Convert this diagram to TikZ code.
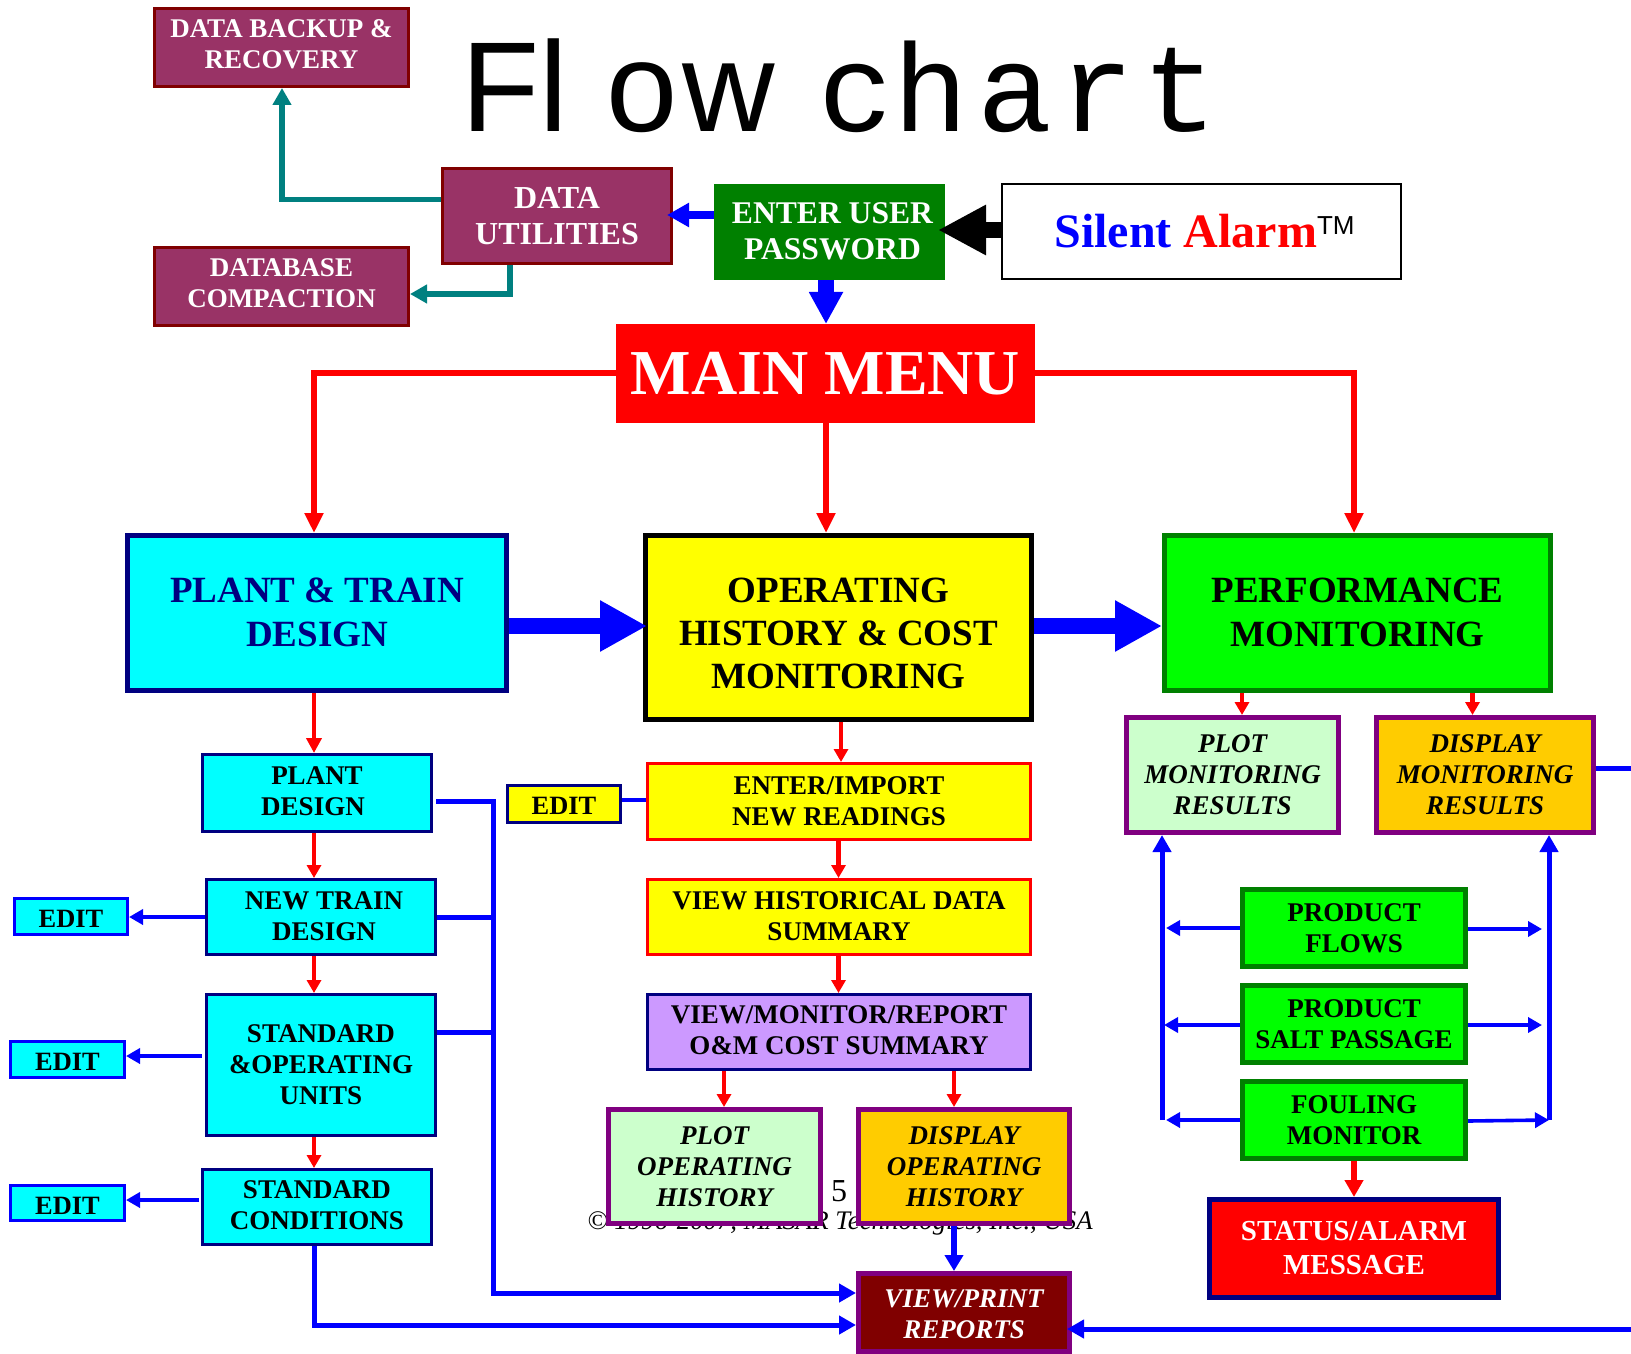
\documentclass[tikz,border=0pt]{standalone}
\usepackage{fontspec}
\setmainfont{Liberation Serif}
\newfontfamily\titlefont[Kerning=Off]{Liberation Sans}
\newfontfamily\titlemono[Kerning=Off]{Liberation Mono}
\usetikzlibrary{arrows.meta,calc}
\definecolor{mauve}{HTML}{993366}
\definecolor{maroonx}{HTML}{800000}
\definecolor{navyx}{HTML}{000080}
\definecolor{greenx}{HTML}{008000}
\definecolor{purplex}{HTML}{800080}
\definecolor{tealx}{HTML}{008080}
\definecolor{paleg}{HTML}{CCFFCC}
\definecolor{orangex}{HTML}{FFCC00}
\definecolor{lilac}{HTML}{CC99FF}
\definecolor{cyanx}{HTML}{00FFFF}
\definecolor{yellowx}{HTML}{FFFF00}
\definecolor{limex}{HTML}{00FF00}
\definecolor{bluex}{HTML}{0000FF}
\definecolor{redx}{HTML}{FF0000}
\newcommand{\fz}[2]{\fontsize{#1}{#2}\selectfont}
\newcommand{\bx}[7]{\node[#2,minimum width={(#5-#3)*0.5pt-\pgflinewidth},minimum height={(#6-#4)*0.5pt-\pgflinewidth}] (#1) at ({(#3+#5)/2},{(#4+#6)/2}) {#7};}
% move a block of text inside its box without changing the box
\newsavebox{\nudgebox}
\newcommand{\nudge}[3]{\sbox{\nudgebox}{\begin{tabular}{@{}c@{}}#3\end{tabular}}\kern#1\raisebox{#2}[\ht\nudgebox][\dp\nudgebox]{\usebox{\nudgebox}}\kern-#1\relax}
\tikzset{
  base box/.style={draw,rectangle,align=center,inner sep=0pt,text=black,font=\bfseries},
  mauvebox/.style={base box,fill=mauve,draw=maroonx,line width=1.5pt,text=white,font=\bfseries\fz{13.5}{15.7}},
  mauvebig/.style={mauvebox,font=\bfseries\fz{16}{18}},
  entrybox/.style={base box,fill=greenx,draw=greenx,line width=0.5pt,text=white,font=\bfseries\fz{15.8}{18}},
  brandbox/.style={base box,fill=white,draw=black,line width=1pt},
  mainbox/.style={base box,fill=redx,draw=redx,line width=0.5pt,text=white,font=\bfseries\fz{32}{36}},
  bigcyan/.style={base box,fill=cyanx,draw=navyx,line width=2.5pt,font=\bfseries\fz{18.5}{21.7},text=navyx},
  bigyellow/.style={base box,fill=yellowx,draw=black,line width=2.5pt,font=\bfseries\fz{18.5}{21.7}},
  biggreen/.style={base box,fill=limex,draw=greenx,line width=2.5pt,font=\bfseries\fz{18.5}{21.7}},
  smallcyan/.style={base box,fill=cyanx,draw=navyx,line width=1.4pt,font=\bfseries\fz{13.5}{15.5}},
  editcyan/.style={smallcyan,draw=bluex,font=\bfseries\fz{13.2}{15.5}},
  edityellow/.style={smallcyan,fill=yellowx,font=\bfseries\fz{13.2}{15.5}},
  readingbox/.style={smallcyan,fill=yellowx,draw=redx},
  costbox/.style={smallcyan,fill=lilac},
  paleitalic/.style={base box,fill=paleg,draw=purplex,line width=2.5pt,font=\bfseries\itshape\fz{13.5}{15.5}},
  orangeitalic/.style={paleitalic,fill=orangex},
  reportbox/.style={paleitalic,fill=maroonx,text=white},
  greenbox/.style={base box,fill=limex,draw=greenx,line width=2.5pt,font=\bfseries\fz{13.5}{15.5}},
  alarmbox/.style={base box,fill=redx,draw=navyx,line width=2.5pt,text=white,font=\bfseries\fz{14.5}{17}},
  redmain/.style={draw=redx,line width=3pt,-{Triangle[length=10pt,width=9pt]}},
  redlead/.style={draw=redx,line width=2.4pt,-{Triangle[length=7.5pt,width=7.5pt]}},
  redthin/.style={draw=redx,line width=2.4pt,-{Triangle[length=6.5pt,width=7pt]}},
  blueedit/.style={draw=bluex,line width=1.8pt,-{Triangle[length=7pt,width=7.5pt]}},
  bluebus/.style={draw=bluex,line width=2.5pt,-{Triangle[length=8.5pt,width=9pt]}},
  bluebranch/.style={draw=bluex,line width=2.5pt},
  tealarrow/.style={draw=tealx,line width=2.7pt,-{Triangle[length=8.5pt,width=9pt]}},
  bigblue/.style={draw=bluex,line width=8pt,-{Triangle[length=23.5pt,width=24pt]}},
}
\begin{document}
\begin{tikzpicture}[x=0.5pt,y=-0.5pt]
\useasboundingbox (0,0) rectangle (1631,1353);
\node[anchor=base west,inner sep=0pt,font=\titlefont\fontsize{64}{64}\selectfont] (title) at (461,132)
 {F\kern0ptl\kern19.5pt o\kern2.2pt w\kern21.5pt{\fontsize{62.5}{64}\titlemono c\kern0pt h\kern4.6pt a\kern3.8pt r\kern3.8pt t}};
\node[anchor=base,inner sep=0pt,font=\fz{16}{18}] (page) at (839,1201) {5};
\node[anchor=base,inner sep=0pt,font=\itshape\fz{13.4}{16}] (copy) at (840,1229) {© 1996-2007, MASAR Technologies, Inc., USA};
\bx{backup}{mauvebox}{153}{7}{410}{88}{\nudge{0pt}{0.5pt}{DATA BACKUP \&\\RECOVERY}}
\bx{util}{mauvebig}{441}{167}{673}{265}{DATA\\UTILITIES}
\bx{compact}{mauvebox}{153}{246}{410}{327}{\nudge{0pt}{0.5pt}{DATABASE\\COMPACTION}}
\bx{enter}{entrybox}{714}{184}{945}{280}{\nudge{1.5pt}{-1pt}{ENTER USER\\PASSWORD}}
\bx{brand}{brandbox}{1001}{183}{1402}{280}{\kern3pt\fz{24}{28}\textcolor{bluex}{Silent} \textcolor{redx}{Alarm}\raisebox{6.5pt}{\titlefont\mdseries\fz{13}{13}TM}}
\bx{menu}{mainbox}{616}{324}{1035}{423}{MAIN MENU}
\bx{train}{bigcyan}{125}{533}{509}{693}{\nudge{0pt}{-1.5pt}{PLANT \& TRAIN\\DESIGN}}
\bx{oper}{bigyellow}{643}{533}{1034}{722}{\nudge{0pt}{-4.7pt}{OPERATING\\HISTORY \& COST\\MONITORING}}
\bx{perf}{biggreen}{1162}{533}{1553}{693}{\nudge{0pt}{-1.5pt}{PERFORMANCE\\MONITORING}}
\bx{pd}{smallcyan}{201}{753}{433}{833}{\nudge{0pt}{-0.4pt}{PLANT\\DESIGN\hspace*{4pt}}}
\bx{ntd}{smallcyan}{205}{878}{437}{956}{\nudge{1.5pt}{-0.8pt}{NEW TRAIN\\DESIGN}}
\bx{sou}{smallcyan}{205}{993}{437}{1137}{STANDARD\\\&OPERATING\\UNITS}
\bx{sc}{smallcyan}{201}{1168}{433}{1246}{\nudge{0pt}{-0.5pt}{STANDARD\\CONDITIONS}}
\bx{eda}{editcyan}{13}{897}{129}{936}{\nudge{0pt}{-2.5pt}{EDIT}}
\bx{edb}{editcyan}{9}{1040}{126}{1079}{\nudge{0pt}{-2.5pt}{EDIT}}
\bx{edc}{editcyan}{9}{1184}{126}{1222}{\nudge{0pt}{-2.5pt}{EDIT}}
\bx{edy}{edityellow}{506}{784}{622}{824}{\nudge{0pt}{-2pt}{EDIT}}
\bx{read}{readingbox}{646}{762}{1032}{841}{ENTER/IMPORT\\NEW READINGS}
\bx{hist}{readingbox}{646}{878}{1032}{956}{\nudge{0pt}{-0.7pt}{VIEW HISTORICAL DATA\\SUMMARY}}
\bx{cost}{costbox}{646}{993}{1032}{1071}{\nudge{0pt}{-0.5pt}{VIEW/MONITOR/REPORT\\O\&M COST SUMMARY}}
\bx{plotop}{paleitalic}{606}{1107}{823}{1226}{PLOT\\OPERATING\\HISTORY}
\bx{dispop}{orangeitalic}{856}{1107}{1072}{1226}{DISPLAY\\OPERATING\\HISTORY}
\bx{report}{reportbox}{856}{1271}{1072}{1354}{\nudge{0pt}{-2pt}{VIEW/PRINT\\REPORTS}}
\bx{plotmon}{paleitalic}{1124}{715}{1341}{835}{PLOT\\MONITORING\\RESULTS}
\bx{dispmon}{orangeitalic}{1374}{715}{1596}{835}{DISPLAY\\MONITORING\\RESULTS}
\bx{flows}{greenbox}{1240}{887}{1468}{969}{PRODUCT\\FLOWS}
\bx{salt}{greenbox}{1240}{983}{1468}{1065}{PRODUCT\\SALT PASSAGE}
\bx{foul}{greenbox}{1240}{1079}{1468}{1161}{FOULING\\MONITOR}
\bx{status}{alarmbox}{1207}{1197}{1501}{1300}{STATUS/ALARM\\MESSAGE}
% free ends at the picture's right edge
\coordinate (edgeA) at (1631,768);
\coordinate (edgeB) at (1631,1329);
% top
\draw[tealarrow] (util.west |- 0,199.5) -| (backup.south -| 282,0);
\draw[tealarrow] (util.south -| 510,0) |- (compact.east |- 0,294);
\draw[draw=bluex,line width=4pt,-{Triangle[length=11pt,width=11.5pt]}] (enter.west |- 0,215) -- ($(util.east |- 0,215)+(-6,0)$);
\draw[draw=black,line width=8pt,-{Triangle[length=24pt,width=23.5pt]}] (brand.west |- 0,230) -- ($(enter.east |- 0,230)+(-7,0)$);
\draw[draw=bluex,line width=8pt,-{Triangle[length=16pt,width=16pt]}] (enter.south -| 826,0) -- (menu.north -| 826,0);
\draw[redmain] (menu.west |- 0,373) -| (train.north -| 314,0);
\draw[redmain] (menu.south -| 826,0) -- (oper.north -| 826,0);
\draw[redmain] (menu.east |- 0,373) -| (perf.north -| 1354,0);
\draw[bigblue] (train.east |- 0,626) -- ($(oper.west |- 0,626)+(4,0)$);
\draw[bigblue] (oper.east |- 0,626) -- (perf.west |- 0,626);
% left column
\draw[redlead] (train.south -| 314,0) -- (pd.north -| 314,0);
\draw[redthin] (pd.south -| 314,0) -- (ntd.north -| 314,0);
\draw[redthin] (ntd.south -| 314,0) -- (sou.north -| 314,0);
\draw[redthin] (sou.south -| 314,0) -- (sc.north -| 314,0);
\draw[blueedit] (ntd.west |- 0,917) -- (eda.east |- 0,917);
\draw[blueedit] ($(sou.west |- 0,1056)+(-3,0)$) -- (edb.east |- 0,1056);
\draw[blueedit] ($(sc.west |- 0,1200)+(-2,0)$) -- (edc.east |- 0,1200);
\draw[bluebus] ($(pd.east |- 0,801)+(3,0)$) -- (493,801) |- (report.west |- 0,1293);
\draw[bluebranch] (ntd.east |- 0,917) -- (493,917);
\draw[bluebranch] (sou.east |- 0,1032) -- (493,1032);
\draw[bluebus] (sc.south -| 314,0) |- (report.west |- 0,1325);
% middle column
\draw[draw=bluex,line width=1.8pt] (edy.east |- 0,800) -- (read.west |- 0,800);
\draw[redthin] (oper.south -| 841,0) -- (read.north -| 841,0);
\draw[redthin] (read.south -| 838.5,0) -- (hist.north -| 838.5,0);
\draw[redthin] (hist.south -| 838.5,0) -- (cost.north -| 838.5,0);
\draw[redthin] (cost.south -| 724,0) -- (plotop.north -| 724,0);
\draw[redthin] (cost.south -| 954,0) -- (dispop.north -| 954,0);
\draw[draw=bluex,line width=3pt,-{Triangle[length=8pt,width=9pt]}] (dispop.south -| 954,0) -- (report.north -| 954,0);
\draw[bluebus] (edgeB) -- ($(report.east |- edgeB)+(-5,0)$);
\draw[bluebranch] (dispmon.east |- edgeA) -- (edgeA);
% right column
\draw[redthin] (perf.south -| 1242,0) -- (plotmon.north -| 1242,0);
\draw[redthin] (perf.south -| 1472.5,0) -- (dispmon.north -| 1472.5,0);
\draw[bluebus] (foul.west -| 1162,0) -- (plotmon.south -| 1162,0);
\draw[bluebus] (foul.east -| 1549,0) -- (dispmon.south -| 1549,0);
\draw[blueedit] (flows.west |- 0,928) -- (1166,928);
\draw[blueedit] (salt.west |- 0,1025) -- (1164,1025);
\draw[blueedit] (foul.west |- 0,1120) -- (1166,1120);
\draw[blueedit] (flows.east |- 0,929) -- (1542,929);
\draw[blueedit] (salt.east |- 0,1025) -- (1542,1025);
\draw[blueedit] (foul.east |- 0,1121) -- (1549,1120);
\draw[draw=redx,line width=3pt,-{Triangle[length=8.5pt,width=9pt]}] (foul.south -| 1354,0) -- (status.north -| 1354,0);
\end{tikzpicture}
\end{document}
